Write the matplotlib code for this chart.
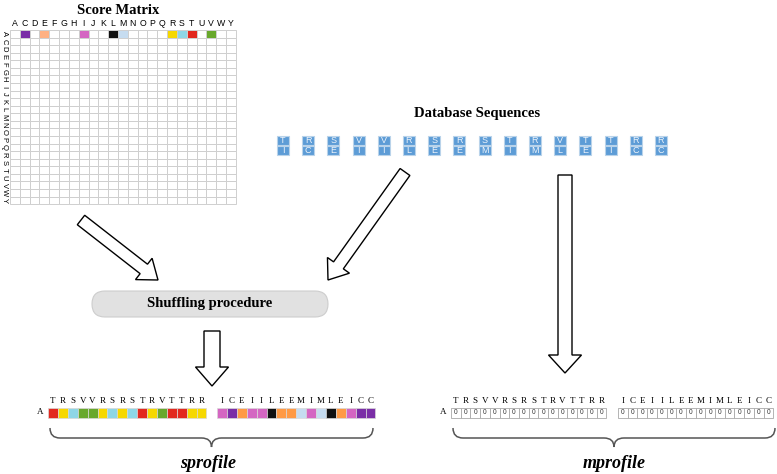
import matplotlib.pyplot as plt
from matplotlib.patches import Rectangle, FancyBboxPatch, FancyArrow, PathPatch
from matplotlib.path import Path

# amino acid letters used in the score matrix
matrix_letters = list("ACDEFGHIJKLMNOPQRSTUVWY")

# residue colours (first row of the matrix / sprofile cells)
residue_colors = {
    "C": "#7a2ea6", "E": "#ff9a45", "I": "#d466c2", "L": "#111111",
    "M": "#c6dcf0", "R": "#f6d800", "S": "#8ed6e6", "T": "#e2281e",
    "V": "#68a82c",
}
matrix_first_row = ["C", "E", "I", "L", "M", "R", "S", "T", "V"]

# database sequence pairs (top / bottom letter of each tile)
seq_top = list("TRSVVRSRSTRVTTRR")
seq_bottom = list("ICEIILEEMIMLEICC")

# mprofile values (all zero)
mprofile_values = [0] * 32

serif = "Liberation Serif"
sans = "Liberation Sans"

fig = plt.figure(figsize=(7.77, 4.74), dpi=100)
ax = fig.add_axes([0, 0, 1, 1])
ax.set_xlim(0, 777)
ax.set_ylim(474, 0)
ax.axis("off")

# -----------------------------
# Score matrix
# -----------------------------
gx0, gy0, cw, ch = 10, 30, 9.82, 7.57
n = len(matrix_letters)
ax.text(118, 10.5, "Score Matrix", family=serif, weight="bold", fontsize=10.5,
        ha="center", va="center")
for j, let in enumerate(matrix_letters):
    ax.text(gx0 + (j + 0.5) * cw, 23, let, family=sans, fontsize=6.3,
            ha="center", va="center")
for i, let in enumerate(matrix_letters):
    ax.text(4, gy0 + (i + 0.5) * ch, let, family=sans, fontsize=5.5,
            ha="center", va="center", rotation=270)
for i in range(n):
    for j in range(n):
        fc = "white"
        if i == 0 and matrix_letters[j] in matrix_first_row:
            fc = residue_colors[matrix_letters[j]]
            if matrix_letters[j] == "E":
                fc = "#ffb183"
        ax.add_patch(Rectangle((gx0 + j * cw, gy0 + i * ch), cw, ch,
                               fc=fc, ec="#cfcfcf", lw=0.7))

# -----------------------------
# Database sequences
# -----------------------------
ax.text(477, 113, "Database Sequences", family=serif, weight="bold",
        fontsize=10.5, ha="center", va="center")
for k, (t, b) in enumerate(zip(seq_top, seq_bottom)):
    x = 277 + k * 25.2
    for y, let in ((136, t), (146, b)):
        ax.add_patch(Rectangle((x, y), 12, 9, fc="#5d9cd6", ec="#b9d3ea", lw=0.8))
        ax.text(x + 6, y + 4.7, let, family=sans, fontsize=6.5,
                color="#eef4fb", ha="center", va="center")

# -----------------------------
# Arrows
# -----------------------------
arrow_kw = dict(fc="white", ec="black", lw=1.0, length_includes_head=True)
ax.add_patch(FancyArrow(81, 220, 158 - 81, 280 - 220, width=12,
                        head_width=27, head_length=18, **arrow_kw))
ax.add_patch(FancyArrow(405, 172, 328 - 405, 280 - 172, width=12,
                        head_width=27, head_length=18, **arrow_kw))
ax.add_patch(FancyArrow(565, 175, 0, 373 - 175, width=14,
                        head_width=33, head_length=18, **arrow_kw))
ax.add_patch(FancyArrow(212, 331, 0, 386 - 331, width=16,
                        head_width=33, head_length=19, **arrow_kw))

# -----------------------------
# Shuffling procedure box
# -----------------------------
ax.add_patch(FancyBboxPatch((92, 291), 236, 26,
                            boxstyle="round,pad=0,rounding_size=13",
                            fc="#e1e1e1", ec="#cdcdcd", lw=0.8))
ax.text(210, 304, "Shuffling procedure", family=serif, weight="bold",
        fontsize=10.5, ha="center", va="center")


# -----------------------------
# Profiles
# -----------------------------
def brace(x0, x1, y0=428, ym=438, yt=447, r=10, color="#555555"):
    xc = (x0 + x1) / 2
    verts = [(x0, y0), (x0, ym), (x0 + r, ym), (xc - r, ym), (xc, ym), (xc, yt),
             (xc, ym), (xc + r, ym), (x1 - r, ym), (x1, ym), (x1, y0)]
    codes = [Path.MOVETO, Path.CURVE3, Path.CURVE3, Path.LINETO, Path.CURVE3,
             Path.CURVE3, Path.CURVE3, Path.CURVE3, Path.LINETO, Path.CURVE3,
             Path.CURVE3]
    ax.add_patch(PathPatch(Path(verts, codes), fc="none", ec=color, lw=1.1))


letters_all = seq_top + seq_bottom

# sprofile
scw = 9.9
s_starts = [48, 217]
ax.text(40, 412.5, "A", family=serif, fontsize=6.5, ha="center", va="center")
for g, start in enumerate(s_starts):
    for k in range(16):
        let = letters_all[g * 16 + k]
        x = start + k * scw
        ax.add_patch(Rectangle((x, 408), scw, 9.5, fc=residue_colors[let],
                               ec="#d8d8d8", lw=0.5))
        ax.text(x + scw / 2, 401, let, family=serif, fontsize=6.5,
                ha="center", va="center")
brace(50, 373)
ax.text(208, 463, "sprofile", family=serif, weight="bold", style="italic",
        fontsize=13, ha="center", va="center")

# mprofile
mcw = 9.7
m_starts = [451, 618]
ax.text(443, 412.5, "A", family=serif, fontsize=6.5, ha="center", va="center")
for g, start in enumerate(m_starts):
    for k in range(16):
        let = letters_all[g * 16 + k]
        x = start + k * mcw
        ax.add_patch(Rectangle((x, 408), mcw, 9.5, fc="white",
                               ec="#a8a8a8", lw=0.6))
        ax.text(x + mcw / 2, 412.8, str(mprofile_values[g * 16 + k]),
                family=sans, fontsize=4.8, color="#333333",
                ha="center", va="center")
        ax.text(x + mcw / 2, 401, let, family=serif, fontsize=6.5,
                ha="center", va="center")
brace(453, 775)
ax.text(614, 463, "mprofile", family=serif, weight="bold", style="italic",
        fontsize=13, ha="center", va="center")

fig.savefig("out.png", dpi=100)
